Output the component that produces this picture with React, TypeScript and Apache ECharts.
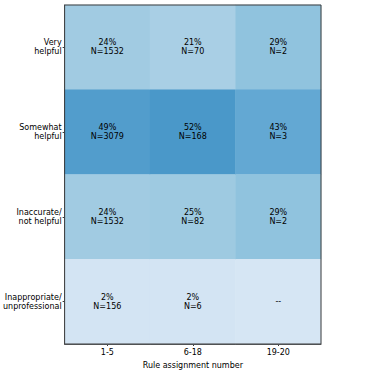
import React, { useEffect, useRef } from "react";
import * as echarts from "echarts";

const columns = ["1-5", "6-18", "19-20"];
const rows = ["Very\nhelpful", "Somewhat\nhelpful", "Inaccurate/\nnot helpful", "Inappropriate/\nunprofessional"];
// percent per row, for each column
const pct_1_5 = [24, 49, 24, 2];
const pct_6_18 = [21, 52, 25, 2];
const pct_19_20 = [29, 43, 29, 0];
const n_1_5 = [1532, 3079, 1532, 156];
const n_6_18 = [70, 168, 82, 6];
const n_19_20: (number | null)[] = [2, 3, 2, null];

export default function App() {
  const ref = useRef<HTMLDivElement>(null);
  useEffect(() => {
    if (!ref.current) return;
    const chart = echarts.init(ref.current, null, { renderer: "svg" });
    const pcts = [pct_1_5, pct_6_18, pct_19_20];
    const ns = [n_1_5, n_6_18, n_19_20];
    const data: any[] = [];
    columns.forEach((_, ci) => {
      rows.forEach((_, ri) => {
        data.push({ value: [ci, ri, pcts[ci][ri], ns[ci][ri]] });
      });
    });
    const font = "DejaVu Sans";
    chart.setOption({
      animation: false,
      backgroundColor: "#ffffff",
      grid: {
        left: 64,
        top: 5,
        width: 257,
        height: 342,
        show: true,
        borderColor: "#3c3c3c",
        borderWidth: 1,
        backgroundColor: "transparent",
        z: 10,
      },
      xAxis: {
        type: "category",
        data: columns,
        name: "Rule assignment number",
        nameLocation: "middle",
        nameGap: 17,
        nameTextStyle: { fontFamily: font, fontSize: 8, color: "#000" },
        axisLine: { show: true, lineStyle: { color: "#3c3c3c" } },
        axisTick: { show: true, alignWithLabel: true, length: 2, lineStyle: { color: "#3c3c3c" } },
        axisLabel: { fontFamily: font, fontSize: 8, color: "#000", margin: 4 },
        splitLine: { show: false },
      },
      yAxis: {
        type: "category",
        data: rows,
        inverse: true,
        axisLine: { show: true, lineStyle: { color: "#3c3c3c" } },
        axisTick: { show: true, alignWithLabel: true, length: 2, lineStyle: { color: "#3c3c3c" } },
        axisLabel: { fontFamily: font, fontSize: 8, color: "#000", margin: 3, align: "right", lineHeight: 9 },
        splitLine: { show: false },
      },
      visualMap: {
        show: false,
        min: -20,
        max: 100,
        dimension: 2,
        inRange: {
          color: ["#f7fbff", "#deebf7", "#c6dbef", "#9ecae1", "#6baed6", "#4292c6", "#2171b5", "#08519c", "#08306b"],
        },
      },
      series: [
        {
          type: "heatmap",
          data,
          itemStyle: { borderWidth: 0 },
          label: {
            show: true,
            fontFamily: font,
            fontSize: 8,
            lineHeight: 9,
            color: "#000",
            formatter: (p: any) => {
              const v = p.value;
              if (v[3] === null || v[3] === undefined) return "--";
              return `${v[2]}%\nN=${v[3]}`;
            },
          },
          emphasis: { disabled: true },
        },
      ],
    });
    return () => chart.dispose();
  }, []);
  return <div ref={ref} style={{ position: "fixed", left: 0, top: 0, width: 374, height: 374 }} />;
}
